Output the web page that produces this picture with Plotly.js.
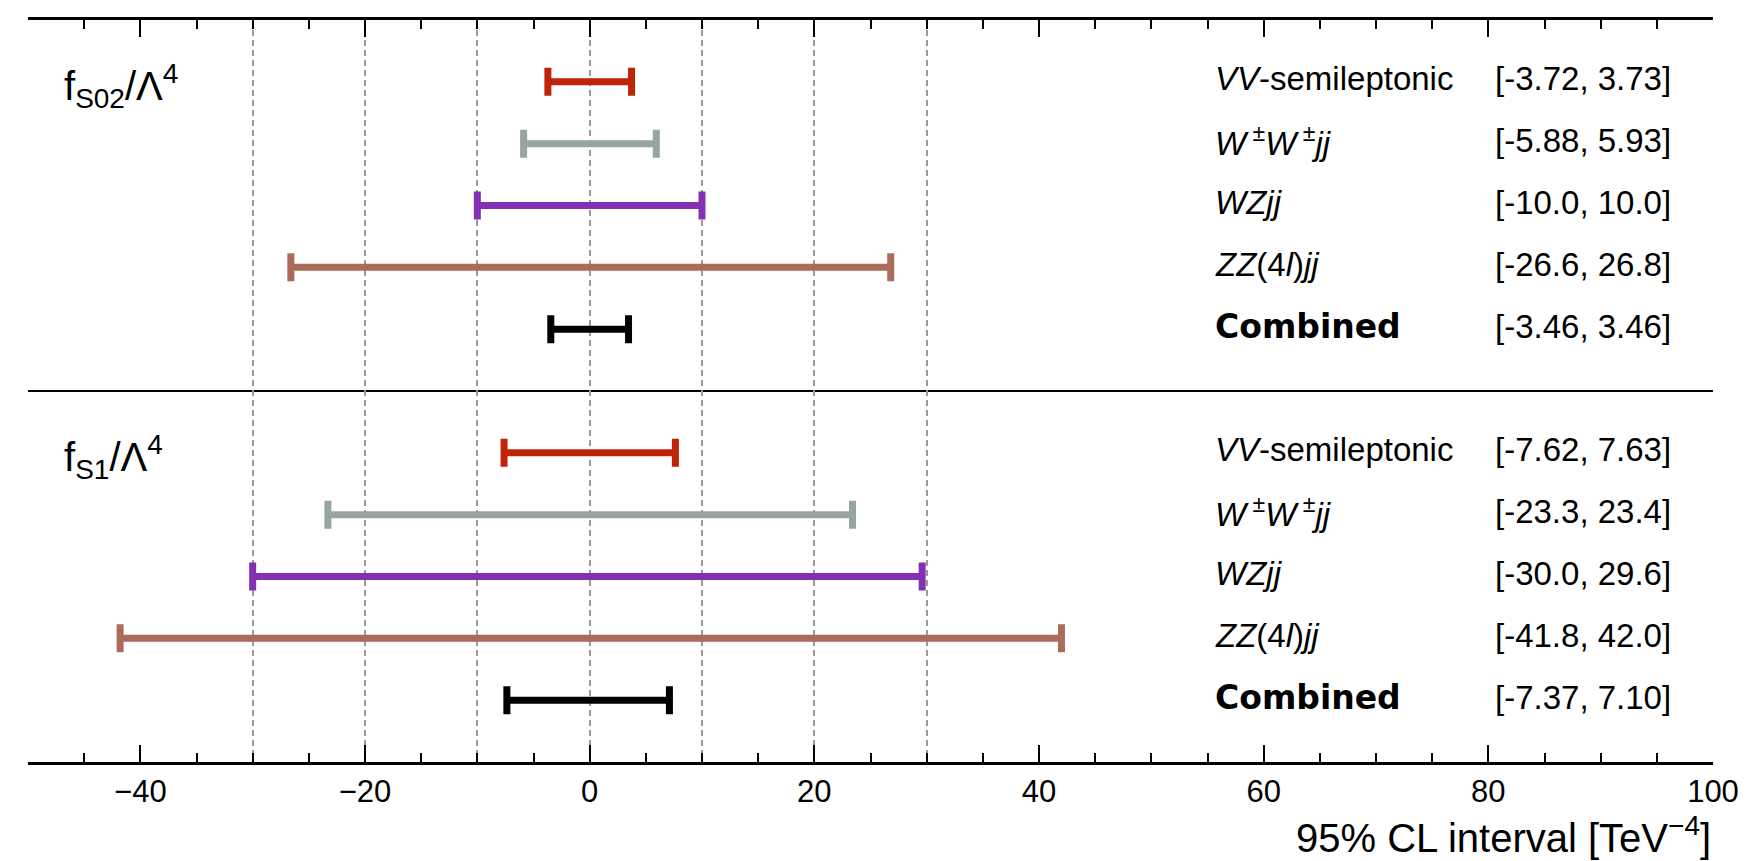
<!DOCTYPE html>
<html>
<head>
<meta charset="utf-8">
<script src="https://cdn.plot.ly/plotly-3.0.1.min.js"></script>
<style>
  html, body { margin: 0; padding: 0; background: #ffffff; }
  #chart { width: 1747px; height: 861px; }
</style>
</head>
<body>
<div id="chart"></div>
<script>
// ---- data ----
const processLabels = [
  '<i>VV</i>-semileptonic',
  '<i>W</i><sup> ±</sup><i>W</i><sup> ±</sup><i>jj</i>',
  '<i>WZjj</i>',
  '<i>ZZ</i>(4<i>l</i>)<i>jj</i>',
  '<b>Combined</b>'
];
const processColors = ['#bf2308', '#96a5a2', '#8430b4', '#ab6b5b', '#000000'];
const panelLabels = ['f<sub>S02</sub>/Λ<sup>4</sup>', 'f<sub>S1</sub>/Λ<sup>4</sup>'];
const lowerS02 = [-3.72, -5.88, -10.0, -26.6, -3.46];
const upperS02 = [3.73, 5.93, 10.0, 26.8, 3.46];
const lowerS1 = [-7.62, -23.3, -30.0, -41.8, -7.37];
const upperS1 = [7.63, 23.4, 29.6, 42.0, 7.10];
const gridValues = [-30, -20, -10, 0, 10, 20, 30];
const xTickValues = [-40, -20, 0, 20, 40, 60, 80, 100];

// ---- layout constants ----
const rowsS02 = [1, 2, 3, 4, 5];
const rowsS1 = [7, 8, 9, 10, 11];
const separatorRow = 6;
const labelX = 55.5;
const intervalX = 80.4;
const textFont = 'Liberation Sans, Arial, Helvetica, sans-serif';

const traces = [];
for (let i = 0; i < processLabels.length; i++) {
  const lo = [lowerS02[i], lowerS1[i]];
  const hi = [upperS02[i], upperS1[i]];
  const mid = lo.map((v, k) => (v + hi[k]) / 2);
  traces.push({
    type: 'scatter',
    mode: 'markers',
    x: mid,
    y: [rowsS02[i], rowsS1[i]],
    marker: { size: 0.1, opacity: 0, color: processColors[i] },
    error_x: {
      type: 'data',
      symmetric: false,
      array: hi.map((v, k) => v - mid[k]),
      arrayminus: mid.map((v, k) => v - lo[k]),
      color: processColors[i],
      thickness: 7,
      width: 14
    },
    hoverinfo: 'skip',
    showlegend: false
  });
}
// dummy trace for the dashed-grid overlay axis
traces.push({ type: 'scatter', mode: 'markers', x: [], y: [], xaxis: 'x2', yaxis: 'y', showlegend: false, hoverinfo: 'skip' });

const fmt = v => v.toPrecision(3);
const annotations = [];
function addPanel(rows, lows, ups) {
  for (let i = 0; i < processLabels.length; i++) {
    const isComb = i === processLabels.length - 1;
    annotations.push({
      xref: 'x', yref: 'y', x: labelX, y: rows[i], yshift: 3,
      xanchor: 'left', yanchor: 'middle', showarrow: false,
      text: processLabels[i],
      font: { family: isComb ? 'DejaVu Sans, sans-serif' : textFont, size: 33, color: '#000' }
    });
    annotations.push({
      xref: 'x', yref: 'y', x: intervalX, y: rows[i], yshift: 3,
      xanchor: 'left', yanchor: 'middle', showarrow: false,
      text: '[' + fmt(lows[i]) + ', ' + fmt(ups[i]) + ']',
      font: { family: textFont, size: 33, color: '#000' }
    });
  }
}
addPanel(rowsS02, lowerS02, upperS02);
addPanel(rowsS1, lowerS1, upperS1);
annotations.push({
  xref: 'paper', yref: 'y', x: 0.02, y: rowsS02[0], yshift: -4,
  xanchor: 'left', yanchor: 'middle', showarrow: false,
  text: panelLabels[0], font: { family: textFont, size: 40, color: '#000' }
});
annotations.push({
  xref: 'paper', yref: 'y', x: 0.02, y: rowsS1[0], yshift: -4,
  xanchor: 'left', yanchor: 'middle', showarrow: false,
  text: panelLabels[1], font: { family: textFont, size: 40, color: '#000' }
});
annotations.push({
  xref: 'paper', yref: 'paper', x: 1, y: -0.098,
  xanchor: 'right', yanchor: 'middle', showarrow: false,
  text: '95% CL interval [TeV<sup>−4</sup>]',
  font: { family: textFont, size: 40, color: '#000' }
});

const layout = {
  width: 1747, height: 861,
  margin: { l: 28, r: 34, t: 20, b: 99 },
  paper_bgcolor: '#ffffff', plot_bgcolor: '#ffffff',
  showlegend: false,
  xaxis: {
    range: [-50, 100],
    tickvals: xTickValues,
    ticks: 'inside', ticklen: 17, tickwidth: 2, tickcolor: '#000',
    minor: { dtick: 5, tick0: 0, ticks: 'inside', ticklen: 9, tickwidth: 2, tickcolor: '#000', showgrid: false },
    showline: true, linewidth: 3, linecolor: '#000', mirror: 'ticks',
    showgrid: false, zeroline: false,
    tickfont: { family: textFont, size: 31, color: '#000' },
    fixedrange: true
  },
  xaxis2: {
    overlaying: 'x', range: [-50, 100],
    tickvals: gridValues, showticklabels: false, ticks: '',
    showgrid: true, gridcolor: '#9a9a9a', gridwidth: 1.5, griddash: '6px,4px',
    showline: false, zeroline: false, fixedrange: true
  },
  yaxis: {
    range: [12, 0],
    tickvals: [separatorRow], showticklabels: false, ticks: '',
    showgrid: true, gridcolor: '#000', gridwidth: 1.5,
    showline: false, zeroline: false, fixedrange: true
  },
  annotations: annotations
};

Plotly.newPlot('chart', traces, layout, { displayModeBar: false });
</script>
</body>
</html>
